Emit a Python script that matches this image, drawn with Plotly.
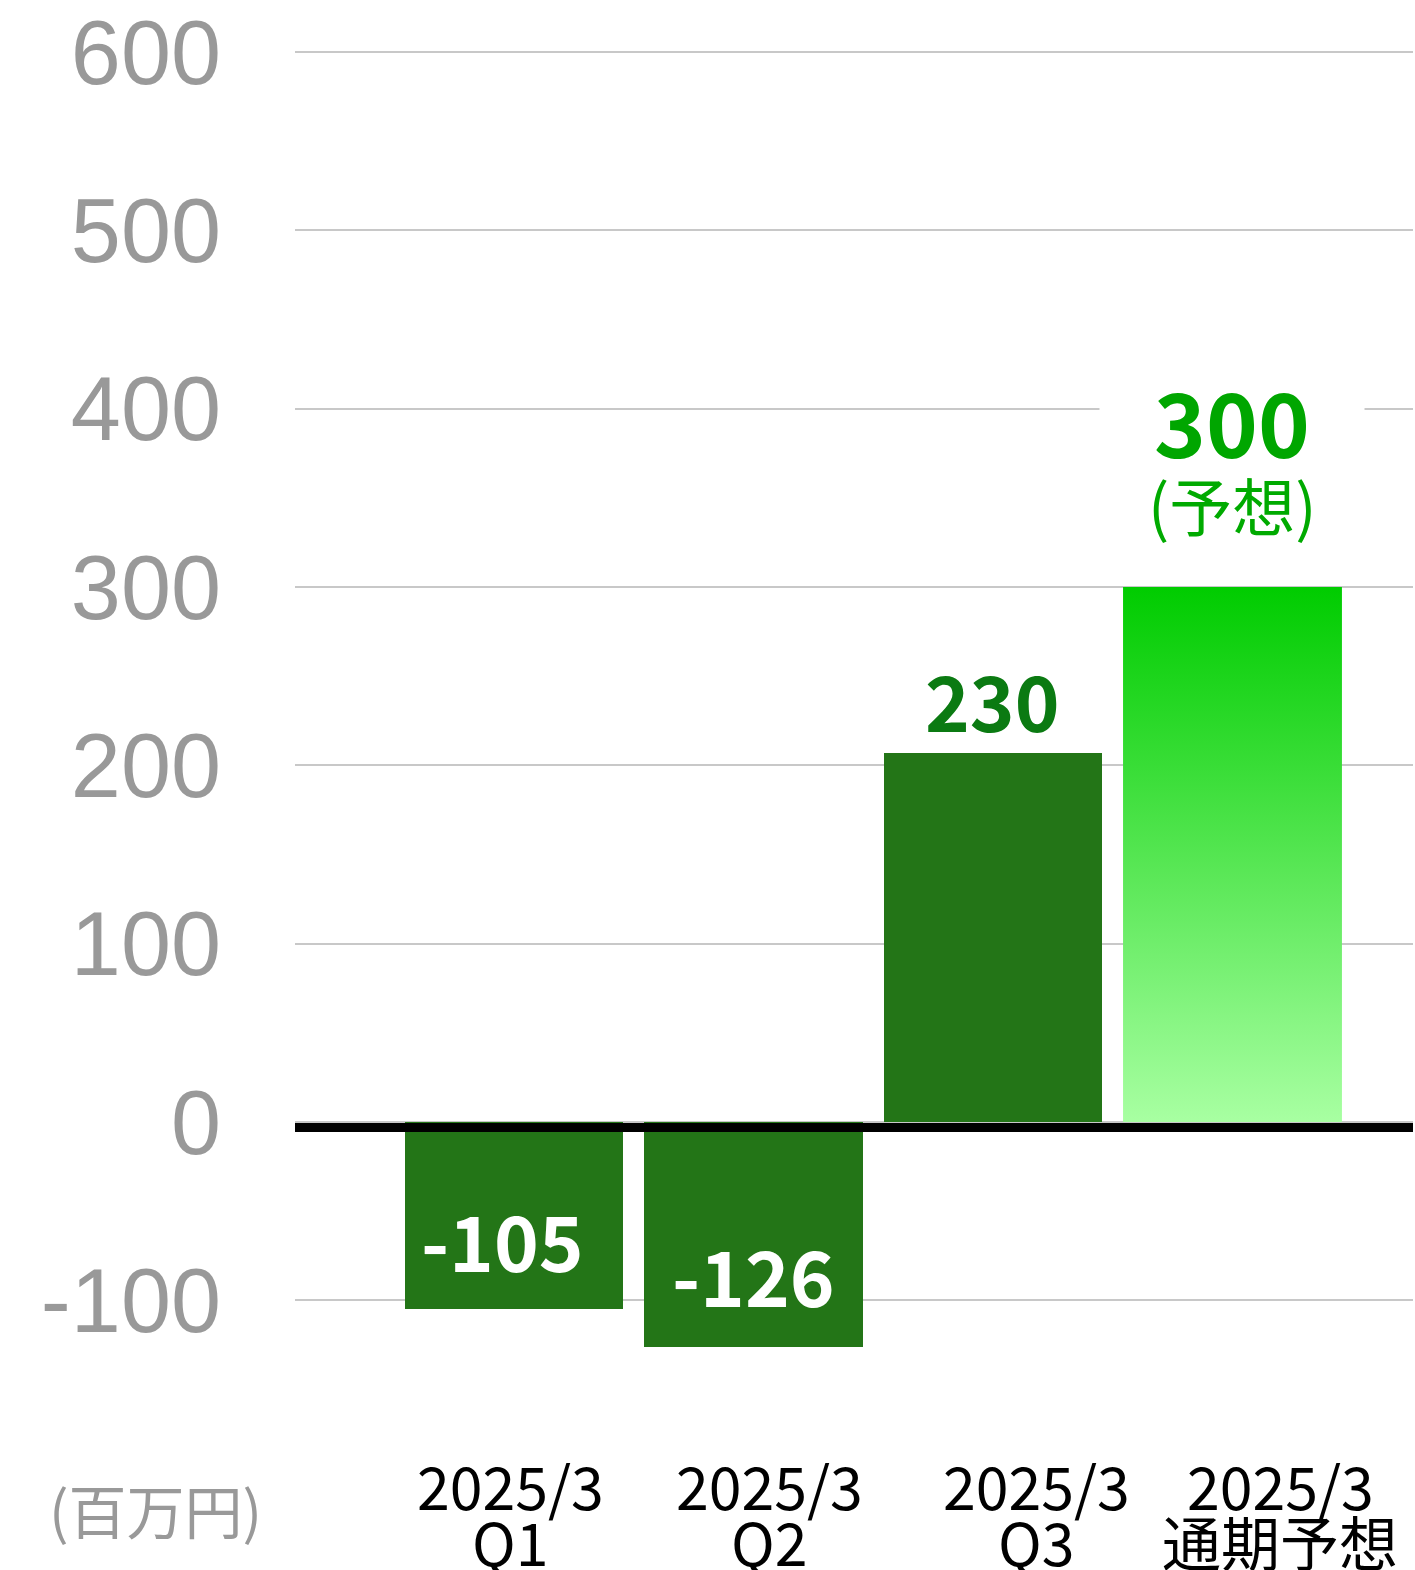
import plotly.graph_objects as go

# ---- data ----
categories = ["2025/3<br>Q1", "2025/3<br>Q2", "2025/3<br>Q3", "2025/3<br>通期予想"]
actual_values = [-105, -126, 207]          # bar heights as drawn
actual_labels = ["-105", "-126", "230"]    # printed labels
forecast_value = 300
forecast_label = "300"
forecast_note = "(予想)"
y_ticks = [-100, 0, 100, 200, 300, 400, 500, 600]
y_tick_text = ["-100", "0", "100", "200", "300", "400", "500", "600"]
unit_label = "(百万円)"

DARK = "#237517"
BAR_W = 0.914
JP = "Noto Sans CJK JP"

x_actual = list(range(len(actual_values)))
x_fc = len(actual_values)

fig = go.Figure()

fig.add_trace(go.Bar(
    x=x_actual, y=actual_values, width=BAR_W,
    marker=dict(color=DARK, line=dict(width=0)),
    hoverinfo="skip", showlegend=False,
))

# forecast bar with vertical gradient
fx0, fx1 = x_fc - BAR_W / 2, x_fc + BAR_W / 2
fig.add_trace(go.Scatter(
    x=[fx0, fx1, fx1, fx0, fx0], y=[0, 0, forecast_value, forecast_value, 0],
    mode="lines", line=dict(width=0), fill="toself",
    fillgradient=dict(type="vertical",
                      colorscale=[[0, "#a8ffa2"], [1, "#00cc00"]]),
    hoverinfo="skip", showlegend=False,
))

# zero line (thick black, just below 0)
fig.add_shape(type="rect", xref="paper", yref="y", x0=0, x1=1,
              ysizemode="pixel", yanchor=0, y0=-1, y1=-10,
              fillcolor="black", line=dict(width=0), layer="above")

# value labels
label_shift = {0: 70, 1: 73}
for i, (v, t) in enumerate(zip(actual_values, actual_labels)):
    if v < 0:
        fig.add_annotation(x=i, y=v, text=f"<b>{t}</b>", showarrow=False,
                           yshift=label_shift[i], xshift=-12 if i == 0 else 0,
                           font=dict(family=JP, size=76, color="white"))
    else:
        fig.add_annotation(x=i, y=v, text=f"<b>{t}</b>", showarrow=False,
                           yshift=54,
                           font=dict(family=JP, size=76, color="#0b7a12"))

fig.add_annotation(x=x_fc, y=forecast_value, text=f"<b>{forecast_label}</b>",
                   showarrow=False, yshift=168, bgcolor="white", width=262, height=80,
                   font=dict(family=JP, size=88, color="#00a600"))
fig.add_annotation(x=x_fc, y=forecast_value, text=forecast_note,
                   showarrow=False, yshift=84,
                   font=dict(family=JP, size=63, color="#00aa00"))

# category labels (two lines each, tight spacing)
cat_shift = [-4, 16, 44, 48]
for i, c in enumerate(categories):
    for j, line in enumerate(c.split("<br>")):
        fig.add_annotation(x=i, xref="x", y=-0.0607 - 0.0393 * j, yref="paper",
                           yanchor="middle", text=line, showarrow=False,
                           xshift=cat_shift[i],
                           font=dict(family=JP, size=59, color="black"))

# unit label
fig.add_annotation(x=-0.125, xref="paper", xanchor="center",
                   y=-0.078, yref="paper", yanchor="middle", text=unit_label,
                   showarrow=False, font=dict(family=JP, size=58, color="#999999"))

fig.update_layout(
    width=1415, height=1570,
    margin=dict(l=295, r=2, t=0, b=170),
    plot_bgcolor="white", paper_bgcolor="white",
    bargap=0,
    xaxis=dict(range=[-0.9144, 3.7537], showticklabels=False, showgrid=False,
               zeroline=False, showline=False, ticks="", automargin=False),
    yaxis=dict(range=[-155.9, 629.2], tickvals=y_ticks, ticktext=y_tick_text,
               showgrid=True, gridcolor="#c8c8c8", gridwidth=1.5,
               zeroline=False, showline=False, ticks="", automargin=False,
               ticklabelstandoff=73,
               tickfont=dict(family="Liberation Sans", size=90, color="#999999")),
)

fig.write_html("out.html",
               config={"displayModeBar": False},
               post_script="document.body.style.margin='0';"
                           "document.body.style.overflow='hidden';")
